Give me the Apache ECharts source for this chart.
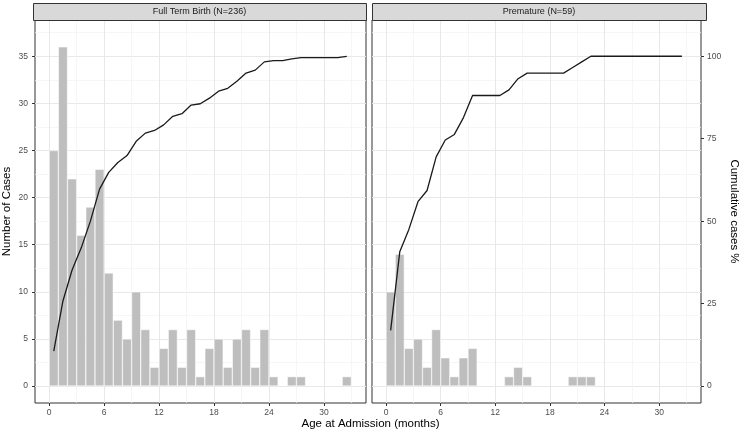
<!DOCTYPE html>
<html>
<head>
<meta charset="utf-8">
<script src="https://cdn.jsdelivr.net/npm/echarts@6/dist/echarts.min.js"></script>
<style>
  html, body { margin: 0; padding: 0; background: #fff; }
  #chart { width: 741px; height: 433px; }
</style>
</head>
<body>
<div id="chart"></div>
<script>
// age bins (month midpoints)
const months = [0.5, 1.5, 2.5, 3.5, 4.5, 5.5, 6.5, 7.5, 8.5, 9.5, 10.5, 11.5, 12.5, 13.5, 14.5, 15.5, 16.5,
  17.5, 18.5, 19.5, 20.5, 21.5, 22.5, 23.5, 24.5, 25.5, 26.5, 27.5, 28.5, 29.5, 30.5, 31.5, 32.5];

const fullTermCounts = [25, 36, 22, 16, 19, 23, 12, 7, 5, 10, 6, 2, 4, 6, 2, 6, 1,
  4, 5, 2, 5, 6, 2, 6, 1, 0, 1, 1, 0, 0, 0, 0, 1];
const prematureCounts = [10, 14, 4, 5, 2, 6, 3, 1, 3, 4, 0, 0, 0, 1, 2, 1, 0,
  0, 0, 0, 1, 1, 1, 0, 0, 0, 0, 0, 0, 0, 0, 0, 0];

// cumulative cases %
const fullTermCumPct = [10.6, 25.8, 35.2, 41.9, 50.0, 59.7, 64.8, 67.8, 69.9, 74.2, 76.7, 77.5, 79.2, 81.8, 82.6, 85.2, 85.6,
  87.3, 89.4, 90.3, 92.4, 94.9, 95.8, 98.3, 98.7, 98.7, 99.2, 99.6, 99.6, 99.6, 99.6, 99.6, 100];
const prematureCumPct = [16.9, 40.7, 47.5, 55.9, 59.3, 69.5, 74.6, 76.3, 81.4, 88.1, 88.1, 88.1, 88.1, 89.8, 93.2, 94.9, 94.9,
  94.9, 94.9, 94.9, 96.6, 98.3, 100, 100, 100, 100, 100, 100, 100, 100, 100, 100, 100];

const panelTitles = ['Full Term Birth (N=236)', 'Premature (N=59)'];

const xTicks = [0, 6, 12, 18, 24, 30];
const xMinorTicks = [3, 9, 15, 21, 27, 33];
const countTicks = [0, 5, 10, 15, 20, 25, 30, 35];
const countMinorTicks = [2.5, 7.5, 12.5, 17.5, 22.5, 27.5, 32.5, 37.5];
const pctTicks = [0, 25, 50, 75, 100];

const FONT = '"Liberation Sans", Arial, sans-serif';
const pctScale = 0.35; // 100% sits at 35 cases
const countMin = -1.8, countMax = 38.85;
const xMin = -1.55, xMax = 34.6;

const grids = [
  { left: 33, top: 20, width: 333, bottom: 30 },
  { left: 372, top: 20, width: 334, bottom: 30 }
];

const chart = echarts.init(document.getElementById('chart'));

function xAxes(gi) {
  return [
    {
      type: 'value', gridIndex: gi, position: 'bottom', min: xMin, max: xMax,
      axisLine: { show: false, onZero: false },
      axisTick: { show: true, length: 3, customValues: xTicks, lineStyle: { color: '#333', width: 1 } },
      axisLabel: { customValues: xTicks, color: '#4d4d4d', fontSize: 8.5, fontFamily: FONT, margin: 5 },
      splitLine: { show: true, lineStyle: { color: '#e8e8e8', width: 1 } }
    },
    {
      type: 'value', gridIndex: gi, position: 'bottom', min: xMin, max: xMax,
      axisLine: { show: false, onZero: false },
      axisTick: { show: false, customValues: xMinorTicks },
      axisLabel: { show: false, customValues: xMinorTicks },
      splitLine: { show: true, lineStyle: { color: '#f2f2f2', width: 0.7 } }
    }
  ];
}

function countAxis(gi, withLabels) {
  return {
    type: 'value', gridIndex: gi, position: 'left', min: countMin, max: countMax,
    name: withLabels ? 'Number of Cases' : '',
    nameLocation: 'middle', nameGap: 22,
    nameTextStyle: { color: '#000', fontSize: 11.5, fontFamily: FONT },
    axisLine: { show: false, onZero: false },
    axisTick: { show: withLabels, length: 3, customValues: countTicks, lineStyle: { color: '#333', width: 1 } },
    axisLabel: { show: withLabels, customValues: countTicks, color: '#4d4d4d', fontSize: 8.5, fontFamily: FONT, margin: 7 },
    splitLine: { show: true, lineStyle: { color: '#e8e8e8', width: 1 } }
  };
}

function minorCountAxis(gi) {
  return {
    type: 'value', gridIndex: gi, position: 'left', min: countMin, max: countMax,
    axisLine: { show: false, onZero: false },
    axisTick: { show: false, customValues: countMinorTicks },
    axisLabel: { show: false, customValues: countMinorTicks },
    splitLine: { show: true, lineStyle: { color: '#f2f2f2', width: 0.7 } }
  };
}

function pctAxis(gi, visible) {
  return {
    type: 'value', gridIndex: gi, position: 'right', show: visible,
    min: countMin / pctScale, max: countMax / pctScale,
    name: 'Cumulative cases %', nameLocation: 'middle', nameGap: 27, nameRotate: -90,
    nameTextStyle: { color: '#000', fontSize: 11.5, fontFamily: FONT },
    axisLine: { show: false, onZero: false },
    axisTick: { show: true, length: 3, customValues: pctTicks, lineStyle: { color: '#333', width: 1 } },
    axisLabel: { customValues: pctTicks, color: '#4d4d4d', fontSize: 8.5, fontFamily: FONT, margin: 6 },
    splitLine: { show: false }
  };
}

function barData(counts) {
  return months.map((m, i) => [m, counts[i]]).filter(d => d[1] > 0);
}

function lineData(pcts) {
  return months.map((m, i) => [m, pcts[i]]);
}

const barStyle = { color: '#bebebe', borderColor: '#fff', borderWidth: 0.5 };
const lineStyle = { color: '#1a1a1a', width: 1.3 };

const stripGraphics = [];
grids.forEach((g, i) => {
  stripGraphics.push({
    type: 'rect', left: g.left, top: 3, z: 10,
    shape: { width: g.width, height: 17 },
    style: { fill: '#d9d9d9', stroke: '#333', lineWidth: 1 }
  });
  stripGraphics.push({
    type: 'text', x: g.left + g.width / 2, y: 11.5, z: 11,
    style: { text: panelTitles[i], fill: '#1a1a1a', font: '9px ' + FONT, align: 'center', verticalAlign: 'middle' }
  });
});
stripGraphics.push({
  type: 'text', left: 'center', top: 418,
  style: { text: 'Age at Admission (months)', fill: '#000', font: '11.5px ' + FONT }
});

chart.setOption({
  animation: false,
  grid: grids.map(g => Object.assign({ show: true, borderColor: '#333', borderWidth: 1, backgroundColor: '#fff' }, g)),
  xAxis: [].concat(xAxes(0), xAxes(1)),
  yAxis: [
    countAxis(0, true),     // 0
    minorCountAxis(0),      // 1
    pctAxis(0, false),      // 2
    countAxis(1, false),    // 3
    minorCountAxis(1),      // 4
    pctAxis(1, true)        // 5
  ],
  series: [
    { type: 'bar', xAxisIndex: 0, yAxisIndex: 0, barWidth: 9.2, data: barData(fullTermCounts), itemStyle: barStyle },
    { type: 'line', xAxisIndex: 0, yAxisIndex: 2, data: lineData(fullTermCumPct), showSymbol: false, lineStyle: lineStyle, z: 3 },
    { type: 'bar', xAxisIndex: 2, yAxisIndex: 3, barWidth: 9.2, data: barData(prematureCounts), itemStyle: barStyle },
    { type: 'line', xAxisIndex: 2, yAxisIndex: 5, data: lineData(prematureCumPct), showSymbol: false, lineStyle: lineStyle, z: 3 }
  ],
  graphic: stripGraphics
});
</script>
</body>
</html>
